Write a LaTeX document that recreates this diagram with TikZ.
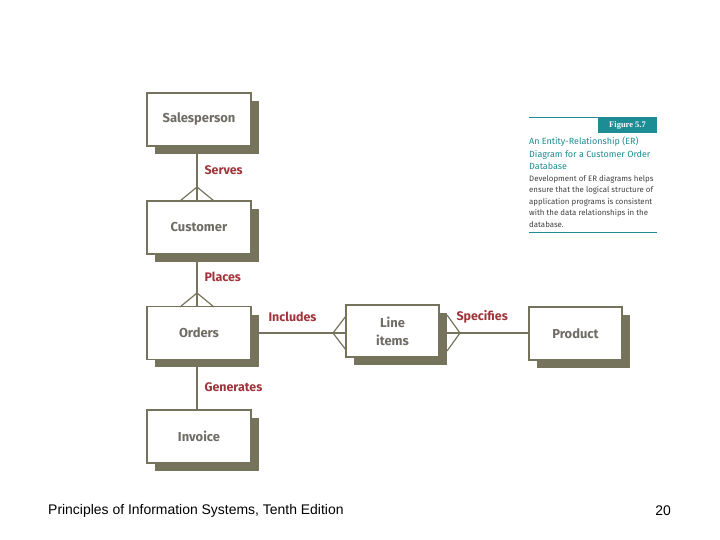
\documentclass[tikz,border=0pt]{standalone}
\usepackage{fontspec}
\setmainfont{Liberation Sans}
\newfontfamily\fira{Fira Sans}
\newfontfamily\serf{Liberation Serif}
\begin{document}
\begin{tikzpicture}[x=1bp,y=-1bp,
  ent/.style={draw=olivec,line width=1.2bp,fill=white,minimum width=104bp,minimum height=53bp,font=\fira\bfseries\fontsize{13}{15}\selectfont,text=graytxt,align=center,inner sep=0pt},
  rel/.style={font=\fira\bfseries\fontsize{12.5}{14}\selectfont,text=relred,anchor=west},
  con/.style={draw=olivec,line width=1.2bp}]
\definecolor{olivec}{HTML}{76735D}
\definecolor{graytxt}{HTML}{6E6C64}
\definecolor{relred}{HTML}{A0343A}
\definecolor{tealc}{HTML}{1C8C95}
\useasboundingbox (0,0) rectangle (720,540);
% shadows
\foreach \x/\y/\w/\h in {147/93/104/53,147/201/104/53,147/307/104/52,147/410/104/53,346/305/93/52,529/307/93/53}
  \fill[olivec] (\x+8,\y+8) rectangle (\x+\w+8,\y+\h+8);
\node[ent] (sp) at (199,119.5) {Salesperson};
\node[ent] (cu) at (199,227.5) {Customer};
\node[ent] (or) at (199,333) {Orders};
\node[ent] (in) at (199,436.5) {Invoice};
\node[ent,minimum width=93bp,minimum height=52bp] (li) at (392.5,331) {Line\\[3bp]items};
\node[ent,minimum width=93bp] (pr) at (575.5,333.5) {Product};
% connectors
\draw[con] (sp.south -| 197,0) -- (cu.north -| 197,0);
\draw[con] (cu.south -| 197,0) -- (or.north -| 197,0);
\draw[con] (or.south -| 197,0) -- (in.north -| 197,0);
\coordinate (f1) at (197,187);
\draw[con] (180,201) -- (f1) -- (214,201);
\coordinate (f2) at (197,293);
\draw[con] (180,307) -- (f2) -- (214,307);
\draw[con] (259,333) -- (li.west |- 0,333);
\coordinate (f3) at (333,333);
\draw[con] (346,316) -- (f3) -- (346,350);
\draw[con] (447,333) -- (pr.west |- 0,333);
\coordinate (f4) at (460,333);
\draw[con] (447,315) -- (f4) -- (447,351);
\node[rel] at (201,170) {Serves};
\node[rel] at (201,277) {Places};
\node[rel] at (265,317) {Includes};
\node[rel] at (453,317) {Specifies};
\node[rel] at (201,387) {Generates};
% caption
\draw[tealc,line width=1bp] (529,118) -- (657,118);
\fill[tealc] (598,118) rectangle (657,133);
\node[text=white,font=\serf\bfseries\fontsize{8.5}{9}\selectfont] (fig) at (627.5,125.5) {Figure 5.7};
\node[anchor=north west,align=left,text=tealc,font=\fira\fontsize{9}{12.5}\selectfont,inner sep=0pt] (tt) at (529,137) {An Entity-Relationship (ER)\\Diagram for a Customer Order\\Database};
\node[anchor=north west,align=left,text=black!75,font=\fira\fontsize{7.9}{11.5}\selectfont,inner sep=0pt] (bd) at (529,175) {Development of ER diagrams helps\\ensure that the logical structure of\\application programs is consistent\\with the data relationships in the\\database.};
\draw[tealc,line width=1bp] (529,233) -- (657,233);
% footer
\node[anchor=west,font=\fontsize{14}{16}\selectfont,inner sep=0pt] (ft) at (48,511) {Principles of Information Systems, Tenth Edition};
\node[anchor=east,font=\fontsize{14}{16}\selectfont,inner sep=0pt] (pg) at (671,511) {20};
\end{tikzpicture}
\end{document}
